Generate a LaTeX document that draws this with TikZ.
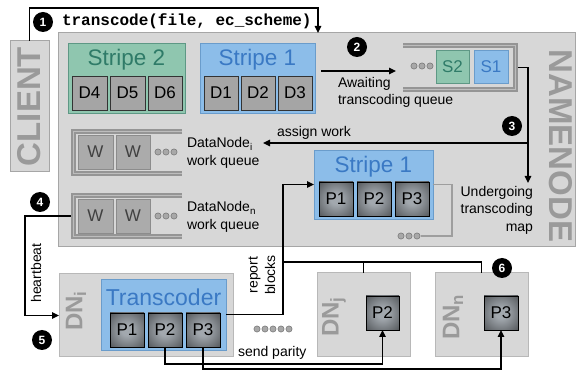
\documentclass[tikz,border=0pt]{standalone}
\usepackage{fontspec}
\setmainfont{Liberation Sans}
\setmonofont{Liberation Mono}
\usetikzlibrary{arrows.meta,calc}
\definecolor{nnfill}{HTML}{D7D7D7}
\definecolor{nnline}{HTML}{A6A6A6}
\definecolor{lbl}{HTML}{9A9A9A}
\definecolor{gfill}{HTML}{8FC6AF}
\definecolor{gline}{HTML}{5E9885}
\definecolor{gtext}{HTML}{2F7B68}
\definecolor{bfill}{HTML}{8CBDE9}
\definecolor{bline}{HTML}{6A9CCB}
\definecolor{btext}{HTML}{3A79C4}
\definecolor{dfill}{HTML}{A5A5A5}
\definecolor{wfill}{HTML}{ABABAB}
\definecolor{wline}{HTML}{8C8C8C}
\definecolor{qline}{HTML}{959595}
\definecolor{qgap}{HTML}{BDBDBD}
\definecolor{gline2}{HTML}{9E9E9E}
\definecolor{pin}{HTML}{A2A8AE}
\definecolor{pmid}{HTML}{5E6266}
\definecolor{pout}{HTML}{1E1F21}
\definecolor{dotf}{HTML}{A8A8A8}
\pgfdeclareradialshading{pgrad}{\pgfpoint{0bp}{0bp}}{color(0bp)=(pin);color(8bp)=(pin);color(32bp)=(pmid);color(50bp)=(pout);color(72bp)=(pout)}
\newcommand\boxat[7]{\pgfmathsetmacro\bw{#5-#3}\pgfmathsetmacro\bh{#6-#4}\node[#2,anchor=north west,minimum width=\bw pt,minimum height=\bh pt] (#1) at (#3,#4) {#7};}
\newcommand\dotrow[4]{\foreach \k in {1,...,#4}{\draw[dotst] ({#2+(\k-1)*8},#3) circle (3.1pt);}\coordinate (#1) at ({#2+(#4-1)*8+4},#3);}
\begin{document}
\begin{tikzpicture}[x=1pt,y=-1pt,
  every node/.style={inner sep=0pt,outer sep=0pt},
  box/.style={rectangle,draw},
  nn/.style={box,fill=nnfill,draw=nnline,line width=1pt},
  sG/.style={box,fill=gfill,draw=gline,line width=0.8pt},
  sB/.style={box,fill=bfill,draw=bline,line width=0.8pt},
  dbox/.style={box,fill=dfill,draw=black!80,line width=0.8pt,font=\fontsize{17}{20}\selectfont},
  wbox/.style={box,fill=wfill,draw=wline,line width=0.8pt,text=black!75,font=\fontsize{17}{20}\selectfont},
  pbox/.style={box,draw=black,line width=0.8pt,shading=pgrad,text=black,font=\fontsize{17}{20}\selectfont},
  gbox/.style={box,fill=gfill,draw=gline,line width=0.8pt,text=gtext,font=\fontsize{17}{20}\selectfont},
  bbox/.style={box,fill=bfill,draw=bline,line width=0.8pt,text=btext,font=\fontsize{17}{20}\selectfont},
  gtitle/.style={text=gtext,font=\fontsize{22.5}{26}\selectfont},
  btitle/.style={text=btext,font=\fontsize{22.5}{26}\selectfont},
  vlbl/.style={text=lbl,font=\bfseries\fontsize{33}{36}\selectfont},
  dnlbl/.style={text=lbl,font=\bfseries\fontsize{24}{26}\selectfont,rotate=90},
  num/.style={circle,fill=black,text=white,minimum size=20pt,font=\bfseries\fontsize{12}{14}\selectfont},
  txt/.style={font=\fontsize{14}{17.5}\selectfont,align=left},
  arr/.style={draw,line width=1.3pt,-{Triangle[length=7pt,width=6.5pt]}},
  ln/.style={draw,line width=1.3pt},
  gl/.style={draw=gline2,line width=1.2pt},
  qbr/.style={draw=qline,line width=2pt,double=qgap,double distance=1.5pt},
  dotst/.style={fill=dotf,draw=black!55,line width=0.5pt}]
\useasboundingbox (0,0) rectangle (576,371);
% client
\boxat{client}{nn}{10}{41}{49}{172}{}
\node[vlbl,rotate=90] (clientlbl) at (client.center) {CLIENT};
% namenode
\boxat{namenode}{nn}{58}{33}{575}{247}{}
\node[vlbl,rotate=-90] (nnlbl) at (561,146) {NAMENODE};
\coordinate (tc) at (318,33);
\draw[arr] (client.north) -- ++(0,-33) -| (tc);
\node[num] (n1) at (43,22) {1};
\node[anchor=west,font=\ttfamily\bfseries\fontsize{16}{18}\selectfont] (cmd) at (62,21) {transcode(file, ec\_scheme)};
% stripe 2
\boxat{stripeA}{sG}{68}{43}{185}{113}{}
\node[gtitle] (stripeAt) at (126.5,60) {Stripe 2};
\boxat{d4}{dbox}{72}{76}{107}{110}{D4}
\boxat{d5}{dbox}{110}{76}{145}{110}{D5}
\boxat{d6}{dbox}{148}{76}{182}{110}{D6}
% stripe 1
\boxat{stripeB}{sB}{200}{43}{315}{113}{}
\node[btitle] (stripeBt) at (257.5,60) {Stripe 1};
\boxat{d1}{dbox}{204}{76}{238}{110}{D1}
\boxat{d2}{dbox}{241}{76}{275}{110}{D2}
\boxat{d3}{dbox}{278}{76}{312}{110}{D3}
% awaiting queue
\coordinate (a2s) at (321,71);
\boxat{qA}{}{403}{45.5}{515.5}{89.5}{}
\draw[arr] (a2s) -- (a2s -| 396,0);
\node[num] (n2) at (357,47) {2};
\node[txt,anchor=north west] (awt) at (338,77) {Awaiting\\transcoding queue};
\draw[qbr] (qA.north west) -- (qA.north east) -- (qA.south east) -- (qA.south west);
\dotrow{qAd}{414}{66}{3}
\boxat{s2}{gbox}{436}{50}{469}{83}{S2}
\boxat{s1}{bbox}{474}{50}{508}{83}{S1}
% step 3
\node[num] (n3) at (512,126) {3};
\coordinate (j3) at (528,143);
\coordinate (m3) at (528,183);
\coordinate (aw) at (263,143);
\draw[arr] ([xshift=2.5pt]qA.east) -| (m3);
\draw[arr] (j3) -- (aw);
\node[txt,anchor=base west] (awl) at (277,137) {assign work};
\node[txt,align=right,anchor=north east] (umap) at (533,186) {Undergoing\\transcoding\\map};
% work queue i
\boxat{wqI}{}{73.5}{131.5}{182}{173.5}{}
\draw[qbr] (wqI.north east) -- (wqI.north west) -- (wqI.south west) -- (wqI.south east);
\boxat{wi1}{wbox}{78}{135}{113}{169}{W}
\boxat{wi2}{wbox}{116}{135}{150}{169}{W}
\dotrow{wqId}{158}{152}{3}
\node[txt,anchor=west] (wqIt) at (187,153) {DataNode\textsubscript{i}\\work queue};
% work queue n
\boxat{wqN}{}{73.5}{195.5}{182}{236.5}{}
\draw[qbr] (wqN.north east) -- (wqN.north west) -- (wqN.south west) -- (wqN.south east);
\boxat{wn1}{wbox}{78}{199}{113}{233}{W}
\boxat{wn2}{wbox}{116}{199}{150}{233}{W}
\dotrow{wqNd}{158}{216}{3}
\node[txt,anchor=west] (wqNt) at (187,217) {DataNode\textsubscript{n}\\work queue};
% stripe 1 parity
\boxat{stripeP}{sB}{314}{150}{433}{219}{}
\node[btitle] (stripePt) at (373.5,167) {Stripe 1};
\boxat{sp1}{pbox}{319}{182}{353}{216}{P1}
\boxat{sp2}{pbox}{357}{182}{391}{216}{P2}
\boxat{sp3}{pbox}{395}{182}{429}{216}{P3}
\dotrow{spd}{401}{236}{3}
\draw[gl] (stripeP.east) -- ++(19,0) |- (spd);
% datanodes
\boxat{dnI}{nn,draw=nnline!80}{59}{274}{233}{357}{}
\node[dnlbl] (dnIl) at (76,311) {DN\textsubscript{i}};
\boxat{trans}{sB}{101}{279}{226}{350}{}
\node[btitle,font=\fontsize{23}{26}\selectfont] (transt) at (163.5,297) {Transcoder};
\boxat{tp1}{pbox}{110}{313}{144}{347}{P1}
\boxat{tp2}{pbox}{148}{313}{182}{347}{P2}
\boxat{tp3}{pbox}{186}{313}{220}{347}{P3}
\boxat{dnJ}{nn,draw=nnline!80}{317}{273}{410}{357}{}
\node[dnlbl] (dnJl) at (334,317) {DN\textsubscript{j}};
\boxat{jp2}{pbox}{366}{296}{399}{330}{P2}
\boxat{dnN}{nn,draw=nnline!80}{435}{273}{528}{357}{}
\node[dnlbl] (dnNl) at (453,317) {DN\textsubscript{n}};
\boxat{np3}{pbox}{484}{296}{518}{330}{P3}
% heartbeat
\node[num] (n4) at (40,202) {4};
\draw[arr] ([xshift=-3pt]wqN.west) -- ++(-45.5,0) |- (dnI.west);
\node[txt,rotate=90] (hb) at (36,273) {heartbeat};
\node[num] (n5) at (42,340) {5};
% report blocks
\coordinate (rbx) at (283,262);
\draw[ln] (rbx) -| (dnJ.north);
\draw[ln] (rbx) -| (dnN.north);
\draw[arr] (trans.east) -| (rbx) |- (stripeP.west);
\node[txt,rotate=90,align=center] (rbl) at (262,275) {report\\blocks};
\node[num] (n6) at (502,268) {6};
\dotrow{tdots}{257}{329}{5}
% send parity
\draw[arr] (tp2.south) -- ++(0,17) -| (jp2.south);
\draw[arr] (tp3.south) -- ++(0,22) -| (np3.south);
\node[txt,anchor=base west] (spl) at (238,357) {send parity};
\end{tikzpicture}
\end{document}
